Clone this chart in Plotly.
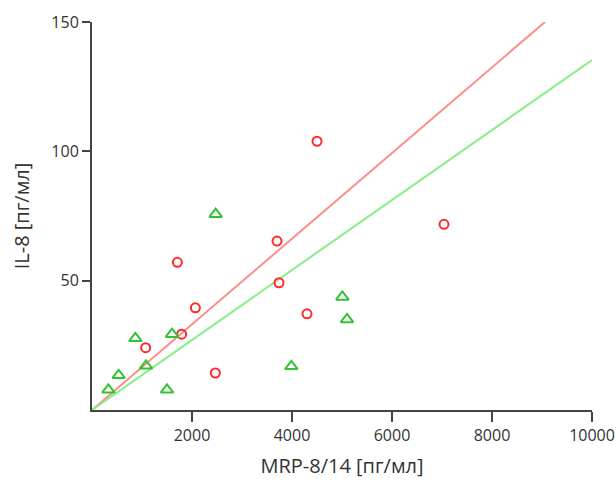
import plotly.graph_objects as go

# Red group (circles)
red_x = [1707, 1073, 1793, 2067, 2467, 3700, 3740, 4300, 4500, 7040]
red_y = [57.1, 24.1, 29.3, 39.5, 14.3, 65.3, 49.2, 37.2, 103.9, 71.8]
# Green group (triangles)
green_x = [2473, 867, 1600, 1080, 533, 327, 1500, 3987, 5007, 5100]
green_y = [75.7, 27.7, 29.3, 17.1, 13.4, 7.8, 7.8, 16.9, 43.7, 35.0]

# Regression lines through origin (slopes)
red_slope = 150 / 9060
green_slope = 135.3 / 10000
red_line_x = [0, 9060]
green_line_x = [0, 10000]

x_ticks = [2000, 4000, 6000, 8000, 10000]
y_ticks = [50, 100, 150]

fig = go.Figure()
fig.add_trace(go.Scatter(x=red_line_x, y=[v * red_slope for v in red_line_x], mode="lines",
                         line=dict(color="#ff8a8a", width=2), showlegend=False, hoverinfo="skip"))
fig.add_trace(go.Scatter(x=green_line_x, y=[v * green_slope for v in green_line_x], mode="lines",
                         line=dict(color="#86ee86", width=2), showlegend=False, hoverinfo="skip"))
fig.add_trace(go.Scatter(x=red_x, y=red_y, mode="markers", showlegend=False,
                         marker=dict(symbol="circle-open", size=9, color="#ff2a2a", line=dict(width=2))))
fig.add_trace(go.Scatter(x=green_x, y=green_y, mode="markers", showlegend=False,
                         marker=dict(symbol="triangle-up-open", size=11, color="#33c233", line=dict(width=2))))

font = dict(family="Open Sans, Noto Sans, sans-serif", size=17, color="#333333")
fig.update_layout(
    width=616, height=486,
    margin=dict(l=92, r=24, t=22, b=76, autoexpand=False),
    plot_bgcolor="white", paper_bgcolor="white",
    font=font,
    xaxis=dict(range=[0, 10000], tickvals=x_ticks, ticktext=[str(v) for v in x_ticks],
               showgrid=False, zeroline=False, showline=True, linecolor="#444444", linewidth=2,
               ticks="outside", ticklen=10, tickwidth=2, tickcolor="#444444", automargin=False,
               ticklabeloverflow="allow",
               title=dict(text="MRP-8/14 [пг/мл]", standoff=14), tickfont=dict(size=16)),
    yaxis=dict(range=[0, 150], tickvals=y_ticks, ticktext=[str(v) for v in y_ticks],
               showgrid=False, zeroline=False, showline=True, linecolor="#444444", linewidth=2,
               ticks="outside", ticklen=8, tickwidth=2, tickcolor="#444444", automargin=False,
               title=dict(text="IL-8 [пг/мл]", standoff=16), tickfont=dict(size=16)),
)
fig.write_html("out.html", config={"displayModeBar": False},
               post_script="document.body.style.margin='0';document.body.style.overflow='hidden';")
